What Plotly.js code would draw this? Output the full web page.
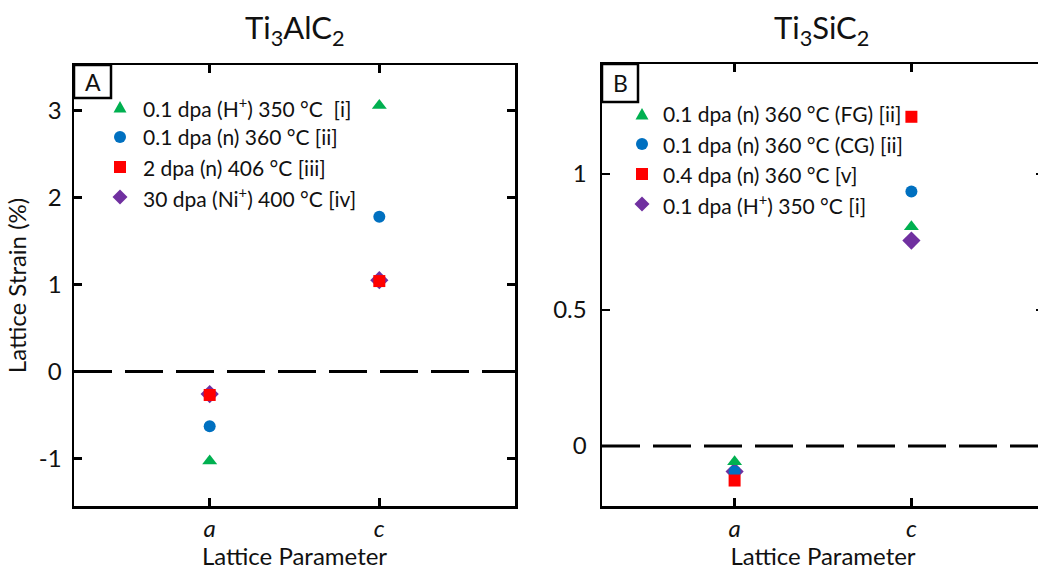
<!DOCTYPE html>
<html>
<head>
<meta charset="utf-8">
<script src="https://cdn.plot.ly/plotly-3.0.1.min.js"></script>
<style>
  html, body { margin: 0; padding: 0; background: #fff; overflow: hidden; }
  #chart { width: 1050px; height: 570px; }
</style>
</head>
<body>
<div id="chart"></div>
<script>
// Lattice parameters on the x axis
const params = [1, 2];
const paramLabels = ['<i>a</i>', '<i>c</i>'];

// Ti3AlC2 lattice strain (%) for a and c
const alcLabels = [
  '0.1 dpa (H<sup>+</sup>) 350 °C  [i]',
  '0.1 dpa (n) 360 °C [ii]',
  '2 dpa (n) 406 °C [iii]',
  '30 dpa (Ni<sup>+</sup>) 400 °C [iv]'
];
const alcH350 = [-1.03, 3.06];
const alcN360 = [-0.63, 1.78];
const alcN406 = [-0.27, 1.04];
const alcNi400 = [-0.26, 1.05];
const alcTicks = [-1, 0, 1, 2, 3];
const alcTickText = ['-1', '0', '1', '2', '3'];

// Ti3SiC2 lattice strain (%) for a and c
const sicLabels = [
  '0.1 dpa (n) 360 °C (FG) [ii]',
  '0.1 dpa (n) 360 °C (CG) [ii]',
  '0.4 dpa (n) 360 °C [v]',
  '0.1 dpa (H<sup>+</sup>) 350 °C [i]'
];
const sicFG = [-0.058, 0.806];
const sicCG = [-0.094, 0.935];
const sicN04 = [-0.127, 1.21];
const sicH350 = [-0.094, 0.755];
const sicTicks = [0, 0.5, 1];
const sicTickText = ['0', '0.5', '1'];

const W = 1050, H = 570;
const px = x => x / W;
const py = y => 1 - y / H;

const FONT = 'Lato, "Open Sans", sans-serif';
const INK = '#111';
const GREEN = '#00B050', BLUE = '#0070C0', RED = '#FF0000', PURPLE = '#7030A0';
const symbols = ['triangle-up', 'circle', 'square', 'diamond'];
const colors = [GREEN, BLUE, RED, PURPLE];
const sizes = [13, 12, 12, 14];

function series(xa, ya, name, y, k) {
  return {
    type: 'scatter', mode: 'markers', x: params, y: y,
    xaxis: xa, yaxis: ya, name: name, showlegend: false,
    marker: { symbol: symbols[k], color: colors[k], size: sizes[k], line: { width: 0 } },
    hoverinfo: 'x+y+name'
  };
}

// draw order chosen so the overlapping markers stack the same way
const traces = [
  series('x', 'y', alcLabels[3], alcNi400, 3),
  series('x', 'y', alcLabels[0], alcH350, 0),
  series('x', 'y', alcLabels[1], alcN360, 1),
  series('x', 'y', alcLabels[2], alcN406, 2),

  series('x2', 'y2', sicLabels[3], sicH350, 3),
  series('x2', 'y2', sicLabels[0], sicFG, 0),
  series('x2', 'y2', sicLabels[1], sicCG, 1),
  series('x2', 'y2', sicLabels[2], sicN04, 2)
];

// legend key symbol drawn as a shape in pixel terms
function keyShape(k, cx, cy) {
  const c = colors[k];
  const P = (x, y) => px(x) + ',' + py(y);
  if (k === 0) {
    return { type: 'path', xref: 'paper', yref: 'paper', fillcolor: c, line: { width: 0 },
      path: 'M' + P(cx - 6.5, cy + 5.5) + 'L' + P(cx + 6.5, cy + 5.5) + 'L' + P(cx, cy - 6) + 'Z' };
  }
  if (k === 1) {
    return { type: 'circle', xref: 'paper', yref: 'paper', fillcolor: c, line: { width: 0 },
      x0: px(cx - 6), x1: px(cx + 6), y0: py(cy + 6), y1: py(cy - 6) };
  }
  if (k === 2) {
    return { type: 'rect', xref: 'paper', yref: 'paper', fillcolor: c, line: { width: 0 },
      x0: px(cx - 6), x1: px(cx + 6), y0: py(cy + 6), y1: py(cy - 6) };
  }
  return { type: 'path', xref: 'paper', yref: 'paper', fillcolor: c, line: { width: 0 },
    path: 'M' + P(cx - 7.5, cy) + 'L' + P(cx, cy - 7.5) + 'L' + P(cx + 7.5, cy) + 'L' + P(cx, cy + 7.5) + 'Z' };
}

function legendBlock(labels, keyX, textX, rowsY) {
  const shapes = [], notes = [];
  labels.forEach((t, k) => {
    shapes.push(keyShape(k, keyX, rowsY[k]));
    notes.push({ text: t, xref: 'paper', yref: 'paper', x: px(textX), y: py(rowsY[k]),
      xanchor: 'left', yanchor: 'middle', showarrow: false,
      font: { family: FONT, size: 21, color: INK } });
  });
  return { shapes, notes };
}

const legA = legendBlock(alcLabels, 120, 141, [107, 137, 167, 197]);
const legB = legendBlock(sicLabels, 642, 661, [114, 144, 174, 204]);

const axisStyle = {
  showline: true, linecolor: '#000', linewidth: 2.5, mirror: 'ticks',
  ticks: 'inside', ticklen: 8, tickwidth: 2.5, tickcolor: '#000',
  showgrid: false, zeroline: false, fixedrange: true,
  tickfont: { family: FONT, size: 24, color: INK }
};

const xTitle = { text: 'Lattice Parameter', font: { family: FONT, size: 24, color: INK }, standoff: 0 };

const layout = {
  width: W, height: H,
  margin: { l: 0, r: 0, t: 0, b: 0 },
  paper_bgcolor: '#fff', plot_bgcolor: '#fff',
  showlegend: false,
  font: { family: FONT, color: INK },
  xaxis: Object.assign({}, axisStyle, {
    domain: [px(74), px(515)], range: [0.2, 2.8],
    tickvals: params, ticktext: paramLabels, ticklabelstandoff: 0, title: xTitle, anchor: 'y'
  }),
  yaxis: Object.assign({}, axisStyle, {
    domain: [py(506), py(65)], range: [-1.547, 3.525],
    tickvals: alcTicks, ticktext: alcTickText, ticklabelstandoff: 5,
    title: { text: 'Lattice Strain (%)', font: { family: FONT, size: 24, color: INK }, standoff: 6 },
    anchor: 'x'
  }),
  xaxis2: Object.assign({}, axisStyle, {
    domain: [px(602), px(1044)], range: [0.25, 2.75],
    tickvals: params, ticktext: paramLabels, ticklabelstandoff: 0, title: xTitle, anchor: 'y2'
  }),
  yaxis2: Object.assign({}, axisStyle, {
    domain: [py(506), py(64)], range: [-0.2206, 1.404],
    tickvals: sicTicks, ticktext: sicTickText, ticklabelstandoff: 8, anchor: 'x2'
  }),
  shapes: [
    { type: 'line', xref: 'x domain', yref: 'y', x0: 0, x1: 1, y0: 0, y1: 0,
      line: { color: '#000', width: 3, dash: '38px,13px' } },
    { type: 'line', xref: 'x2 domain', yref: 'y2', x0: 0, x1: 1, y0: 0, y1: 0,
      line: { color: '#000', width: 3, dash: '38px,13px' } },
    { type: 'rect', xref: 'paper', yref: 'paper', x0: px(74), x1: px(111), y0: py(98), y1: py(65),
      line: { color: '#000', width: 2.5 }, fillcolor: '#fff' },
    { type: 'rect', xref: 'paper', yref: 'paper', x0: px(602), x1: px(638), y0: py(102), y1: py(64),
      line: { color: '#000', width: 2.5 }, fillcolor: '#fff' }
  ].concat(legA.shapes, legB.shapes),
  annotations: [
    { text: 'Ti<sub>3</sub>AlC<sub>2</sub>', xref: 'paper', yref: 'paper', x: px(295), y: py(29),
      xanchor: 'center', yanchor: 'middle', showarrow: false, font: { family: FONT, size: 31, color: INK } },
    { text: 'Ti<sub>3</sub>SiC<sub>2</sub>', xref: 'paper', yref: 'paper', x: px(821), y: py(29),
      xanchor: 'center', yanchor: 'middle', showarrow: false, font: { family: FONT, size: 31, color: INK } },
    { text: 'A', xref: 'paper', yref: 'paper', x: px(92.5), y: py(82),
      xanchor: 'center', yanchor: 'middle', showarrow: false, font: { family: FONT, size: 23, color: INK } },
    { text: 'B', xref: 'paper', yref: 'paper', x: px(620), y: py(83),
      xanchor: 'center', yanchor: 'middle', showarrow: false, font: { family: FONT, size: 23, color: INK } }
  ].concat(legA.notes, legB.notes)
};

Plotly.newPlot('chart', traces, layout, { staticPlot: true, displayModeBar: false });
</script>
</body>
</html>
